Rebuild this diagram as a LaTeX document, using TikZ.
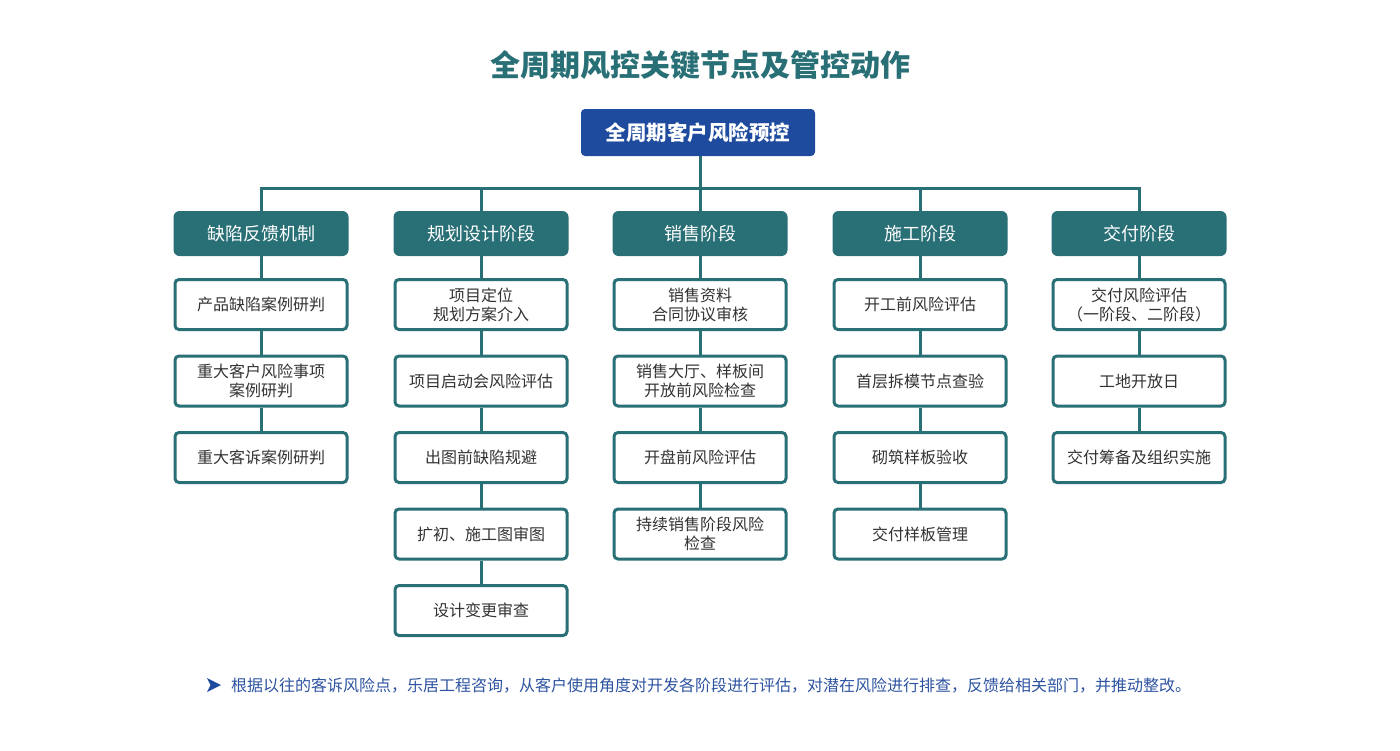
\documentclass[tikz,border=0pt]{standalone}
\usepackage{fontspec}
\setmainfont{Noto Sans CJK SC}
\definecolor{teal}{HTML}{296F76}
\definecolor{topblue}{HTML}{1E4B9E}
\definecolor{txt}{HTML}{333333}
\definecolor{foot}{HTML}{2D53A0}
\begin{document}
\begin{tikzpicture}[x=1pt,y=-1pt,
  hdr/.style={fill=teal, rounded corners=6pt, minimum width=175pt, minimum height=45pt, inner sep=0pt, text=white, font=\fontsize{18}{22}\selectfont},
  item/.style={draw=teal, line width=3pt, fill=white, rounded corners=4pt, minimum width=172pt, minimum height=50pt, inner sep=0pt, align=center, text=txt, font=\fontsize{16}{19}\selectfont},
  conn/.style={draw=teal, line width=3pt},
]
\useasboundingbox (0,0) rectangle (1400,750);
\node[text=teal, font=\fontsize{30}{36}\selectfont\bfseries] (title) at (700,65) {全周期风控关键节点及管控动作};
\node[fill=topblue, rounded corners=4pt, minimum width=234pt, minimum height=47pt, inner sep=0pt, text=white, font=\fontsize{20.5}{24}\selectfont\bfseries] (top) at (698,132.5) {全周期客户风险预控};
\coordinate (bus) at (700,188);

\def\ya{304.5}\def\yb{381}\def\yc{457.5}\def\yd{534}\def\ye{610.5}
% column 1
\node[hdr] (h1) at (261,233.5) {缺陷反馈机制};
\node[item] (a1) at (261,\ya) {产品缺陷案例研判};
\node[item] (a2) at (261,\yb) {重大客户风险事项\\案例研判};
\node[item] (a3) at (261,\yc) {重大客诉案例研判};
% column 2
\node[hdr] (h2) at (481,233.5) {规划设计阶段};
\node[item] (b1) at (481,\ya) {项目定位\\规划方案介入};
\node[item] (b2) at (481,\yb) {项目启动会风险评估};
\node[item] (b3) at (481,\yc) {出图前缺陷规避};
\node[item] (b4) at (481,\yd) {扩初、施工图审图};
\node[item] (b5) at (481,\ye) {设计变更审查};
% column 3
\node[hdr] (h3) at (700,233.5) {销售阶段};
\node[item] (c1) at (700,\ya) {销售资料\\合同协议审核};
\node[item] (c2) at (700,\yb) {销售大厅、样板间\\开放前风险检查};
\node[item] (c3) at (700,\yc) {开盘前风险评估};
\node[item] (c4) at (700,\yd) {持续销售阶段风险\\检查};
% column 4
\node[hdr] (h4) at (920,233.5) {施工阶段};
\node[item] (d1) at (920,\ya) {开工前风险评估};
\node[item] (d2) at (920,\yb) {首层拆模节点查验};
\node[item] (d3) at (920,\yc) {砌筑样板验收};
\node[item] (d4) at (920,\yd) {交付样板管理};
% column 5
\node[hdr] (h5) at (1139,233.5) {交付阶段};
\node[item] (e1) at (1139,\ya) {交付风险评估\\（一阶段、二阶段）};
\node[item] (e2) at (1139,\yb) {工地开放日};
\node[item] (e3) at (1139,\yc) {交付筹备及组织实施};

% bus
\draw[conn] (top.south -| bus) -- (bus);
\draw[conn] (h1.north) -- (h1.north |- bus) -- (h5.north |- bus) -- (h5.north);
\foreach \h in {h2,h3,h4} \draw[conn] (\h.north) -- (\h.north |- bus);
% column connectors
\draw[conn] (h1) -- (a1); \draw[conn] (a1) -- (a2); \draw[conn] (a2) -- (a3);
\draw[conn] (h2) -- (b1); \draw[conn] (b1) -- (b2); \draw[conn] (b2) -- (b3); \draw[conn] (b3) -- (b4); \draw[conn] (b4) -- (b5);
\draw[conn] (h3) -- (c1); \draw[conn] (c1) -- (c2); \draw[conn] (c2) -- (c3); \draw[conn] (c3) -- (c4);
\draw[conn] (h4) -- (d1); \draw[conn] (d1) -- (d2); \draw[conn] (d2) -- (d3); \draw[conn] (d3) -- (d4);
\draw[conn] (h5) -- (e1); \draw[conn] (e1) -- (e2); \draw[conn] (e2) -- (e3);

% footer
\fill[topblue] (207,678) -- (221,685) -- (207,692) -- (210.5,685) -- cycle;
\node[anchor=west, inner sep=0pt, text=foot, font=\fontsize{16}{19}\selectfont] (note) at (231,685.5) {根据以往的客诉风险点，乐居工程咨询，从客户使用角度对开发各阶段进行评估，对潜在风险进行排查，反馈给相关部门，并推动整改。};
\end{tikzpicture}
\end{document}
